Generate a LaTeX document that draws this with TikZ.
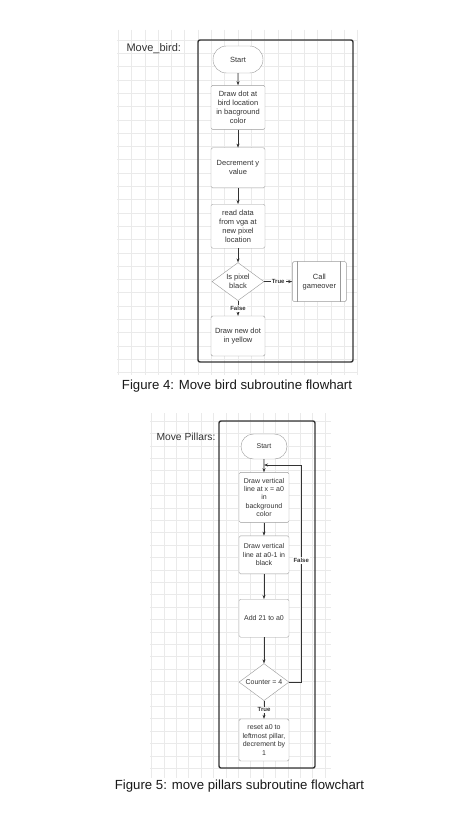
\documentclass[tikz,border=0pt]{standalone}
\usepackage{fontspec}
\setmainfont{Liberation Sans}
\usetikzlibrary{positioning,arrows.meta,shapes.geometric,shapes.misc}
\definecolor{ink}{HTML}{333333}
\definecolor{edge}{HTML}{9A9A9A}
\definecolor{mrizka}{HTML}{EAEAEA}
\tikzset{
  term/.style={rounded rectangle,draw=edge,fill=white,text=ink,minimum width=54pt,minimum height=27pt,inner sep=2pt},
  proc/.style={rectangle,rounded corners=1.5pt,draw=edge,fill=white,text=ink,minimum width=54pt,inner sep=2pt,align=center},
  dec/.style={diamond,draw=edge,fill=white,text=ink,aspect=1.35,inner sep=0pt,align=center},
  arr/.style={-{Stealth[length=4pt,width=3pt]},draw=ink,line width=0.6pt},
  lab/.style={fill=white,text=ink,font=\fontsize{6}{6}\selectfont\bfseries,inner sep=1pt},
  panel/.style={draw=ink,line width=1.4pt,rounded corners=2pt},
  mriz/.style={draw=mrizka,line width=0.45pt},
}

\begin{document}
\begin{tikzpicture}[x=1pt,y=-1pt]
  \useasboundingbox[fill=white] (0,0) rectangle (475,829);
  % grid behind the first chart
  \foreach \i in {0,...,18} \draw[mriz] ({118.2+13.3*\i},30) -- ++(0,345);
  \foreach \j in {0,...,25} \draw[mriz] (117,{40+13.3*\j}) -- ++(241,0);
  % grid behind the second chart
  \foreach \i in {0,...,14} \draw[mriz] ({151.5+12.4*\i},413) -- ++(0,365);
  \foreach \j in {0,...,28} \draw[mriz] (150,{421+12.4*\j}) -- ++(181,0);

  % Move_bird
  \draw[panel] (198,40) rectangle (353,362);
  \node[text=ink,anchor=west,font=\fontsize{11}{11}\selectfont] (t1) at (123,49) {Move\_bird:};
  \begin{scope}[font=\fontsize{7.5}{9}\selectfont]
    \node[term] (s1) at (238,59.5) {Start};
    \node[proc,minimum height=44pt] (a1) [below=12pt of s1] {Draw dot  at\\bird location\\in bacground\\color};
    \node[proc,minimum height=40pt] (a2) [below=18pt of a1] {Decrement y\\value};
    \node[proc,minimum height=44pt] (a3) [below=16pt of a2] {read data\\from vga at\\new pixel\\location};
    \node[dec,minimum width=52pt,minimum height=38pt] (d1) [below=14pt of a3] {Is pixel\\black};
    \node[proc,minimum height=40pt] (g1) [right=28pt of d1] {Call\\gameover};
    \node[proc,minimum height=40pt] (a5) [below=15pt of d1] {Draw new dot\\in yellow};
  \end{scope}
  \draw[draw=edge] ([xshift=5pt]g1.north west) -- ([xshift=5pt]g1.south west);
  \draw[draw=edge] ([xshift=-6pt]g1.north east) -- ([xshift=-6pt]g1.south east);
  \draw[arr] (s1) -- (a1);
  \draw[arr] (a1) -- (a2);
  \draw[arr] (a2) -- (a3);
  \draw[arr] (a3) -- (d1);
  \draw[arr] (d1) -- node[lab]{True} (g1);
  \draw[arr] (d1) -- node[lab]{False} (a5);
  \node[text=black!90,font=\fontsize{13.2}{13.2}\selectfont] (c1) at (237,386) {Figure 4: Move bird subroutine flowhart};

  % Move Pillars
  \draw[panel] (219,421) rectangle (315,768);
  \node[text=ink,anchor=west,font=\fontsize{10.3}{10.3}\selectfont] (t2) at (153,437) {Move Pillars:};
  \begin{scope}[font=\fontsize{7}{8.4}\selectfont,proc/.append style={minimum width=50pt}]
    \node[term,minimum width=50pt,minimum height=25pt] (s2) at (264,446.5) {Start};
    \node[proc,minimum height=50pt] (p1) [below=13pt of s2] {Draw vertical\\line at x = a0\\in\\background\\color};
    \node[proc,minimum height=38pt] (p2) [below=13pt of p1] {Draw vertical\\line at a0-1 in\\black};
    \node[proc,minimum height=38pt] (p3) [below=25pt of p2] {Add 21 to a0};
    \node[dec,minimum width=50pt,minimum height=37pt] (d2) [below=26pt of p3] {Counter = 4};
    \node[proc,minimum height=42pt] (p4) [below=18pt of d2] {reset a0 to\\leftmost pillar,\\decrement by\\1};
  \end{scope}
  \coordinate (zpet) at (264,465);
  \draw[arr] (s2) -- (p1);
  \draw[arr] (p1) -- (p2);
  \draw[arr] (p2) -- (p3);
  \draw[arr] (p3) -- (d2);
  \draw[arr] (d2) -- node[lab]{True} (p4);
  \draw[arr] (d2.east) -- ++(12,0) |- node[lab,pos=0.28]{False} (zpet);
  \node[text=black!90,font=\fontsize{13.2}{13.2}\selectfont] (c2) at (239.5,786) {Figure 5: move pillars subroutine flowchart};
\end{tikzpicture}
\end{document}
